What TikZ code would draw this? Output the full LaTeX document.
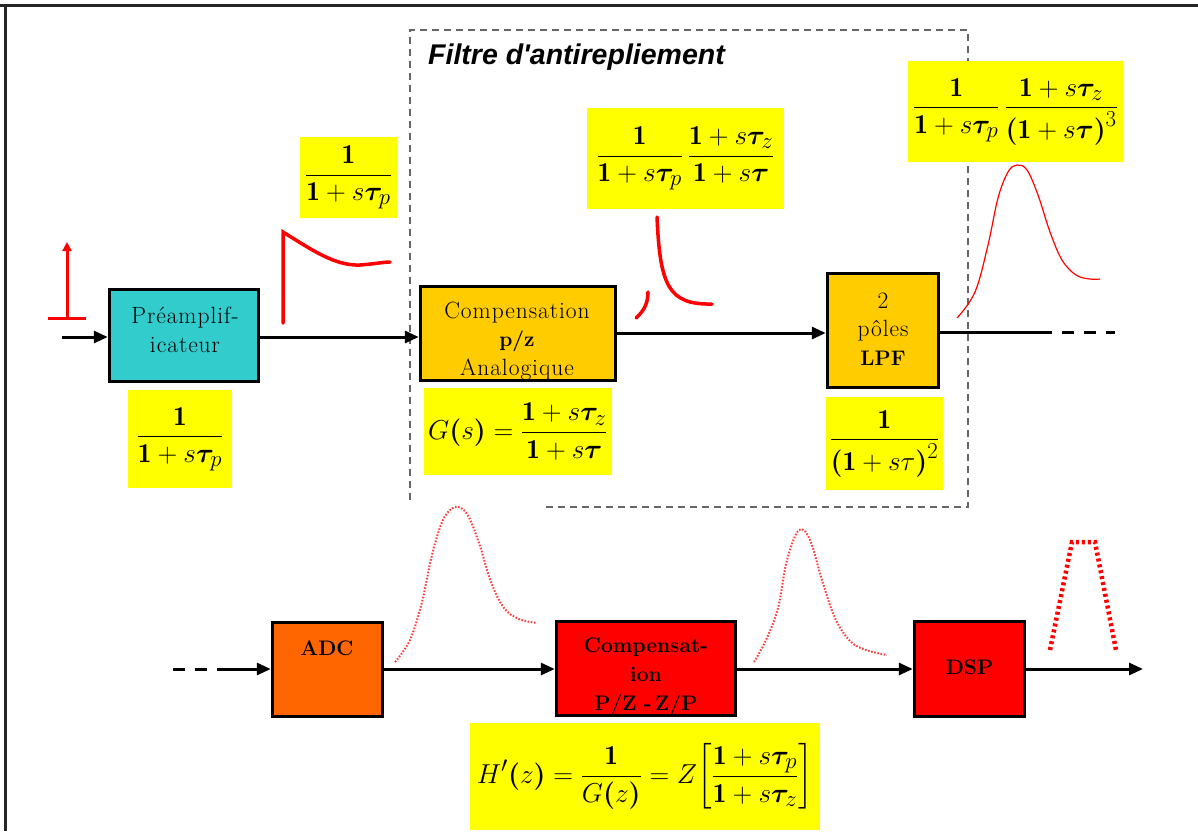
\documentclass[tikz,border=0pt]{standalone}
\usepackage{amsmath,bm}
\usepackage{fontspec}
\newfontfamily\titlefont{Liberation Sans}
\newfontfamily\boxfont[LetterSpace=4]{Latin Modern Roman}
\usetikzlibrary{arrows.meta}
\definecolor{preamp}{HTML}{33CCCC}
\definecolor{golden}{HTML}{FFCC00}
\definecolor{adcorange}{HTML}{FF6600}
\definecolor{pure red}{HTML}{FF0000}
\definecolor{hiyellow}{HTML}{FFFF00}
\newcommand{\one}{\mathbf{1}}
\newcommand{\btau}{\boldsymbol{\tau}}
\newcommand{\tp}{\boldsymbol{\tau}_{p}}
\newcommand{\tz}{\boldsymbol{\tau}_{z}}
\newcommand{\fm}[1]{\scalebox{1.1}{$\displaystyle #1$}}
\begin{document}
\begin{tikzpicture}[x=1pt,y=-1pt,
  blockbox/.style={draw=black, line width=3.5pt, inner sep=0pt},
  boxtext/.style={font=\boxfont\fontsize{23.5}{28.5}\selectfont, align=center, inner sep=0pt},
  boldtext/.style={font=\fontsize{21}{29}\selectfont\bfseries, align=center, inner sep=0pt},
  formula/.style={fill=hiyellow, inner sep=0pt, font=\Huge},
  flow/.style={line width=3pt, -{Triangle[length=14pt,width=12pt]}},
  plainflow/.style={line width=3pt},
  dashflow/.style={line width=3pt, dash pattern=on 12pt off 10pt},
  response/.style={draw=pure red, line width=3.5pt, line cap=round},
  thinresponse/.style={draw=pure red, line width=1.2pt},
  dotresponse/.style={draw=pure red!75, line width=2pt, dash pattern=on 1.6pt off 1.6pt},
  frame/.style={draw=black!60, line width=1.3pt, dash pattern=on 7pt off 5pt}]
\useasboundingbox (0,0) rectangle (1198,831);
\fill[white] (0,0) rectangle (1198,831);

% page rules
\draw[line width=3pt, black!85] (0,5) -- (1198,5);
\draw[line width=3pt, black!85] (5,5) -- (5,831);

% anti-aliasing filter enclosure
\draw[frame] (410,500) -- (410,30) -- (968,30) -- (968,507) -- (545,507);
\node[anchor=base west, inner sep=0pt, font=\titlefont\bfseries\itshape\fontsize{28.5}{32}\selectfont] (title) at (428,64) {Filtre d'antirepliement};

% ---------- upper chain ----------
\node[blockbox, fill=preamp, minimum width=149pt, minimum height=92pt] (pre) at (184,335.5) {};
\node[boxtext] (pretxt) at (185,330) {Préamplif-\\icateur};

\node[blockbox, fill=golden, minimum width=195pt, minimum height=94pt] (comp) at (518,333.5) {};
\node[boxtext] (comptxt) at (517,341) {Compensation\\{\normalfont\fontsize{21}{28.5}\selectfont\bfseries p/z}\\Analogique};

\node[blockbox, fill=golden, minimum width=111pt, minimum height=114pt] (lpf) at (883,330.5) {};
\node[boxtext] (lpftxt) at (883,329) {2\\pôles\\{\normalfont\fontsize{21}{28.5}\selectfont\bfseries LPF}};

\coordinate (in) at (62,337);
\draw[flow] (in) -- (in -| pre.west);
\draw[flow] (pre.east |- in) -- (in -| comp.west);
\coordinate (c1) at (0,333);
\draw[flow] (comp.east |- c1) -- (c1 -| lpf.west);
\coordinate (o1) at (1040,332);
\coordinate (o2) at (1115,332);
\draw[plainflow] (lpf.east |- o1) -- (o1);
\draw[dashflow] (o1) -- (o2);

% impulse input
\draw[draw=pure red, line width=3pt, -{Triangle[length=9pt,width=9pt]}] (67,318) -- (67,242);
\draw[draw=pure red, line width=3pt] (48,318) -- (86,318);

% transfer functions
\node[formula, minimum width=104pt, minimum height=98pt] (f1) at (180,439)
  {\fm{\frac{\one}{\one+s\tp}}};
\node[formula, minimum width=97pt, minimum height=81pt] (f2) at (348.5,177.5)
  {\fm{\frac{\one}{\one+s\tp}}};
\node[formula, minimum width=188pt, minimum height=87pt] (f3) at (518,431.5)
  {\fm{G\boldsymbol{(}s\boldsymbol{)}=\frac{\one+s\tz}{\one+s\btau}}};
\node[formula, minimum width=197pt, minimum height=101pt] (f4) at (685.5,158.5)
  {\fm{\frac{\one}{\one+s\tp}\,\frac{\one+s\tz}{\one+s\btau}}};
\node[formula, minimum width=117pt, minimum height=93pt] (f5) at (884.5,443.5)
  {\fm{\frac{\one}{\boldsymbol{(}\one+s\tau\boldsymbol{)}^2}}};
\node[formula, minimum width=215pt, minimum height=101pt] (f6) at (1015.5,111.5)
  {\fm{\frac{\one}{\one+s\tp}\,\frac{\one+s\tz}{\boldsymbol{(}\one+s\btau\boldsymbol{)}^3}}};

% signal shapes, upper chain
\draw[response] (283,323) -- (283,232) .. controls (312,250) and (335,266) .. (360,265)
  .. controls (374,264) and (384,262) .. (390,262);
\draw[response] (636,318) .. controls (645,310) and (648,302) .. (648,292);
\draw[response] (657,217) .. controls (660,285) and (668,305) .. (712,304);
\draw[thinresponse] plot[smooth, tension=0.6] coordinates {(957,318) (975,292) (988,245) (998,198) (1008,172) (1017,165) (1027,170) (1038,195) (1050,232) (1062,260) (1076,275) (1090,279) (1100,279)};

% ---------- lower chain ----------
\node[blockbox, fill=adcorange, minimum width=110pt, minimum height=94pt] (adc) at (327.5,669.5) {};
\node[boldtext] (adctxt) at (327,648) {ADC};

\node[blockbox, fill=pure red, minimum width=179pt, minimum height=94pt] (cz) at (646,668.5) {};
\node[boldtext] (cztxt) at (646,677) {Compensat-\\ion\\P/Z\,\,-\,Z/P};

\node[blockbox, fill=pure red, minimum width=110pt, minimum height=95pt] (dsp) at (969.5,669) {};
\node[boldtext] (dsptxt) at (969.5,667) {DSP};

\coordinate (b0) at (173,669);
\coordinate (b1) at (225,669);
\coordinate (bout) at (1143,669);
\draw[dashflow] (b0) -- (b1);
\draw[flow] (b1) -- (b1 -| adc.west);
\draw[flow] (adc.east |- b1) -- (b1 -| cz.west);
\draw[flow] (cz.east |- b1) -- (b1 -| dsp.west);
\draw[flow] (dsp.east |- b1) -- (bout);

\node[formula, minimum width=350pt, minimum height=107pt] (f7) at (645,776.5)
  {\fm{H'\boldsymbol{(}z\boldsymbol{)}=\frac{\one}{G\boldsymbol{(}z\boldsymbol{)}}=Z\!\left[\frac{\one+s\tp}{\one+s\tz}\right]}};

% signal shapes, lower chain
\draw[dotresponse] plot[smooth, tension=0.6] coordinates {(395,662) (410,640) (422,602) (432,555) (443,520) (455,507) (467,514) (479,543) (491,582) (504,608) (519,619) (537,623)};
\draw[dotresponse] plot[smooth, tension=0.6] coordinates {(754,662) (766,640) (778,608) (787,560) (799,530) (810,540) (822,580) (835,618) (850,641) (866,650) (887,655)};
\draw[draw=pure red, line width=4.5pt, dash pattern=on 3pt off 3pt] (1050,650) -- (1072,542) -- (1095,542) -- (1116,650);
\end{tikzpicture}
\end{document}
